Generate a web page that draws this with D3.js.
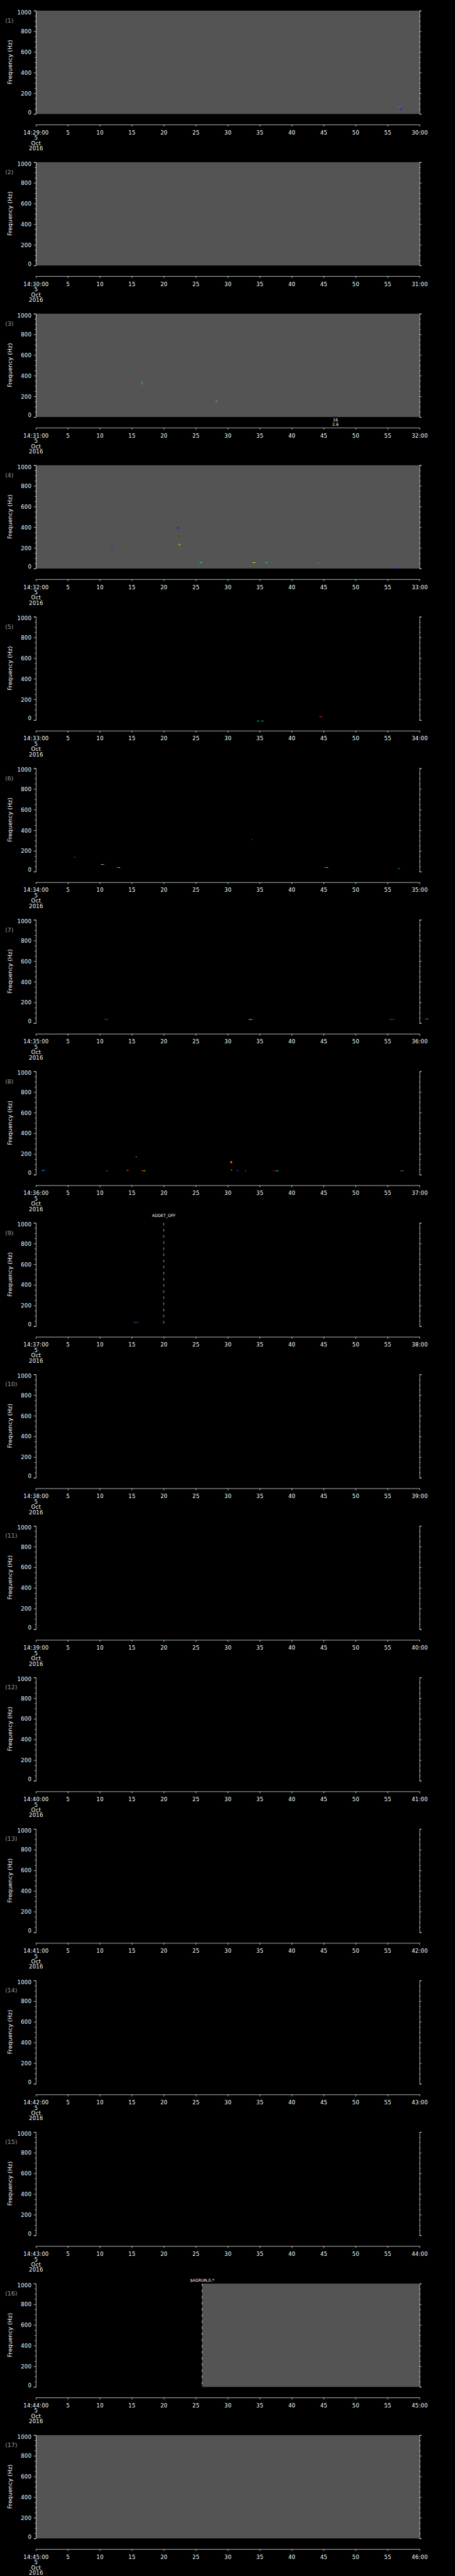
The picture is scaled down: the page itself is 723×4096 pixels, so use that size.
<!DOCTYPE html>
<html>
<head>
<meta charset="utf-8">
<script src="https://cdn.jsdelivr.net/npm/d3@7"></script>
<style>
  html, body { margin: 0; padding: 0; background: #000; }
  svg { display: block; background: #000; }
</style>
</head>
<body>
<svg id="chart"></svg>
<script>
// one panel per minute, 5 Oct 2016
const panelStarts = [
  "2016-10-05T14:29:00Z", "2016-10-05T14:30:00Z", "2016-10-05T14:31:00Z",
  "2016-10-05T14:32:00Z", "2016-10-05T14:33:00Z", "2016-10-05T14:34:00Z",
  "2016-10-05T14:35:00Z", "2016-10-05T14:36:00Z", "2016-10-05T14:37:00Z",
  "2016-10-05T14:38:00Z", "2016-10-05T14:39:00Z", "2016-10-05T14:40:00Z",
  "2016-10-05T14:41:00Z", "2016-10-05T14:42:00Z", "2016-10-05T14:43:00Z",
  "2016-10-05T14:44:00Z", "2016-10-05T14:45:00Z"
];

// [panel, from s, to s] where the spectrogram has data (flat grey)
const grayRanges = [
  [1, 0, 60], [2, 0, 60], [3, 0, 60], [4, 0, 60], [16, 26, 60], [17, 0, 60]
];

// small spectral features: [panel, t0 s, t1 s, f0 Hz, f1 Hz, colour]
const marks = [
  [1, 56.5, 56.95, 71, 73, "#1e6cff"], [1, 56.9, 56.98, 49, 73, "#1e6cff"], [1, 56.95, 57.3, 48, 50, "#0000c0"],
  [3, 16.55, 16.65, 312, 348, "#00b4ff"], [3, 28.1, 28.35, 152, 157, "#00ffc0"],
  [3, 43.8, 44.0, 0, 3, "#0000c0"], [3, 46.6, 47.0, 0, 3, "#0000ff"],
  [4, 11.8, 12.0, 213, 218, "#0000ff"], [4, 22.1, 22.4, 389, 397, "#0000ff"],
  [4, 22.2, 22.5, 313, 316, "#a00000"], [4, 22.3, 22.6, 231, 234, "#ffff00"],
  [4, 25.6, 26.0, 59, 62, "#00ffff"], [4, 25.9, 26.0, 55, 59, "#0080ff"],
  [4, 33.9, 34.3, 57, 61, "#c0ff00"], [4, 35.9, 36.2, 54, 60, "#00ffc0"],
  [4, 43.9, 44.1, 55, 58, "#0080ff"], [4, 44.1, 44.3, 54, 58, "#ff6000"],
  [4, 56.3, 56.5, 0, 2, "#0000ff"],
  [5, 34.6, 34.9, -8, -6, "#00ffff"], [5, 35.2, 35.6, -8, -6, "#00c0ff"],
  [5, 44.3, 44.6, 35, 37, "#ff0000"], [5, 44.6, 44.7, 35, 37, "#ffff00"], [5, 44.7, 44.8, 35, 37, "#0000ff"],
  [6, 5.9, 6.2, 139, 142, "#ff0000"], [6, 6.1, 6.2, 131, 135, "#0000ff"],
  [6, 10.2, 10.45, 70, 72, "#ffff00"], [6, 10.45, 10.7, 70, 72, "#00c0ff"],
  [6, 12.6, 12.9, 40, 42, "#ff2000"], [6, 12.9, 13.2, 40, 42, "#00ffff"],
  [6, 33.7, 33.9, 309, 317, "#c00000"],
  [6, 45.1, 45.4, 40, 42, "#ff3000"], [6, 45.4, 45.7, 40, 42, "#ffc000"],
  [6, 56.6, 56.9, 32, 34, "#00a0ff"],
  [7, 10.8, 11.05, 36, 38, "#ff2000"], [7, 11.05, 11.3, 36, 38, "#0060ff"],
  [7, 33.3, 33.6, 36, 38, "#ffff00"], [7, 33.6, 33.9, 36, 38, "#00c0ff"],
  [7, 55.3, 55.7, 36, 38, "#ff0000"], [7, 55.7, 56.1, 36, 38, "#0040ff"],
  [7, 60.9, 61.4, 41, 43, "#00a0ff"],
  [8, 0.9, 1.4, 42, 44, "#00c0ff"], [8, 11.0, 11.2, 38, 40, "#00a0ff"],
  [8, 14.2, 14.5, 42, 44, "#ff8000"], [8, 15.6, 15.8, 170, 176, "#00ffc0"],
  [8, 16.5, 16.8, 38, 40, "#ff2000"], [8, 16.8, 17.1, 38, 40, "#ffff00"],
  [8, 30.4, 30.7, 112, 130, "#ff6000"], [8, 30.5, 30.7, 45, 49, "#c0ff00"],
  [8, 31.4, 31.7, 42, 44, "#0060ff"], [8, 32.7, 32.9, 38, 40, "#0080ff"],
  [8, 37.1, 37.6, 38, 40, "#e00000"], [8, 37.6, 37.9, 38, 40, "#00ffff"],
  [8, 57.0, 57.3, 38, 40, "#ff3000"], [8, 57.3, 57.5, 38, 40, "#00c0ff"],
  [9, 15.3, 15.7, 36, 38, "#ff2000"], [9, 15.7, 16.1, 38, 41, "#0040ff"]
];

// command events: [panel, time s, label, label height in Hz]
const events = [
  [9, 20, "ADDET_OFF", 1059],
  [16, 26, "$ADRUN,0,*", 1016]
];

// stray annotations under panel 3: [panel, time s, height Hz, text]
const notes = [
  [3, 46.85, -40, "16"],
  [3, 46.85, -83, "2.6"]
];

const freqTicks = d3.range(0, 1001, 50);

const W = 1024, H = 5802, N = panelStarts.length, PH = H / N;
const M = {left: 80.7, right: 944.3, top: 24, bottom: 256.7, axis: 280.7};
const FONT = "'DejaVu Sans', sans-serif";

const svg = d3.select("#chart")
  .attr("width", 723).attr("height", 4096)
  .attr("viewBox", `0 0 ${W} ${H}`);

const y = d3.scaleLinear().domain([0, 1000]).range([M.bottom, M.top]);

panelStarts.forEach((s, i) => {
  const p = i + 1;
  const t0 = new Date(s);
  const x = d3.scaleUtc().domain([t0, d3.utcMinute.offset(t0, 1)]).range([M.left, M.right]);
  const sx = sec => x(new Date(+t0 + sec * 1000));
  const g = svg.append("g").attr("transform", `translate(0,${i * PH})`);

  g.selectAll("rect.bg").data(grayRanges.filter(r => r[0] === p)).enter().append("rect")
    .attr("class", "bg")
    .attr("x", d => sx(d[1])).attr("width", d => sx(d[2]) - sx(d[1]))
    .attr("y", M.top).attr("height", M.bottom - M.top)
    .attr("fill", "#545454");

  g.selectAll("rect.mk").data(marks.filter(m => m[0] === p)).enter().append("rect")
    .attr("class", "mk")
    .attr("x", d => sx(d[1]))
    .attr("width", d => Math.max(1.4, sx(d[2]) - sx(d[1])))
    .attr("y", d => y(d[4]))
    .attr("height", d => Math.max(1.4, y(d[3]) - y(d[4])))
    .attr("fill", d => d[5]);

  // event lines + labels
  const ev = events.filter(e => e[0] === p);
  g.selectAll("line.ev").data(ev).enter().append("line")
    .attr("class", "ev")
    .attr("x1", d => sx(d[1])).attr("x2", d => sx(d[1]))
    .attr("y1", M.top).attr("y2", M.bottom)
    .attr("stroke", "#fff").attr("stroke-width", 1)
    .attr("stroke-dasharray", "5.7,8.1");
  g.selectAll("text.ev").data(ev).enter().append("text")
    .attr("class", "ev")
    .attr("x", d => sx(d[1])).attr("y", d => y(d[3]))
    .attr("text-anchor", "middle")
    .attr("font-family", FONT).attr("font-size", 9).attr("fill", "#fff")
    .text(d => d[2]);

  g.selectAll("text.note").data(notes.filter(n => n[0] === p)).enter().append("text")
    .attr("class", "note")
    .attr("x", d => sx(d[1])).attr("y", d => y(d[2]))
    .attr("text-anchor", "middle")
    .attr("font-family", FONT).attr("font-size", 9).attr("fill", "#fff")
    .text(d => d[3]);

  // left frequency axis
  const gy = g.append("g").attr("transform", `translate(${M.left},0)`)
    .call(d3.axisLeft(y).tickValues(freqTicks).tickSize(4.7)
      .tickFormat(v => v % 200 === 0 ? v : ""));
  gy.attr("font-family", FONT).attr("font-size", 12);
  gy.selectAll(".tick").filter(v => v % 200 !== 0).select("line").attr("x2", -2.7);
  gy.selectAll(".tick text")
    .attr("x", -9.7).attr("dy", 0)
    .attr("y", v => v === 1000 ? 7.7 : v === 0 ? 0 : 4.3)
    .attr("letter-spacing", 0.4)
    .attr("fill", "#fff");

  // right frequency axis
  const gr = g.append("g").attr("transform", `translate(${M.right},0)`)
    .call(d3.axisRight(y).tickValues(freqTicks).tickSize(4.3).tickFormat(""));
  gr.selectAll(".tick").filter(v => v % 200 !== 0).select("line").attr("x2", 2.3);

  [gy, gr].forEach(a => {
    a.select(".domain").attr("stroke", "#fff");
    a.selectAll(".tick line").attr("stroke", "#fff");
  });

  // time axis
  const gx = g.append("g").attr("transform", `translate(0,${M.axis})`)
    .call(d3.axisBottom(x).ticks(d3.utcSecond.every(5)).tickSize(4.3).tickSizeOuter(0)
      .tickFormat((d, k) => k === 0 ? d3.utcFormat("%H:%M:%S")(d)
        : d.getUTCSeconds() === 0 ? d3.utcFormat("%M:%S")(d)
        : d3.utcFormat("%-S")(d)));
  gx.attr("font-family", FONT).attr("font-size", 12);
  gx.select(".domain").attr("stroke", "#fff");
  gx.selectAll(".tick line").attr("stroke", "#fff");
  gx.selectAll(".tick text").attr("y", 22).attr("dy", 0)
    .attr("letter-spacing", 0.4).attr("fill", "#fff");

  // first tick carries the date underneath, one line each
  const first = gx.select(".tick text").text(null);
  [
    [22, d3.utcFormat("%H:%M:%S")(t0)],
    [34.3, d3.utcFormat("%-d")(t0)],
    [46, d3.utcFormat("%b")(t0)],
    [58, d3.utcFormat("%Y")(t0)]
  ].forEach(([yy, txt]) => first.append("tspan").attr("x", 0).attr("y", yy).text(txt));

  // panel number and y label
  g.append("text")
    .attr("x", 11.5).attr("y", 51)
    .attr("font-family", FONT).attr("font-size", 13.4).attr("fill", "#9a9a9a")
    .text(`(${p})`);
  g.append("text")
    .attr("transform", `translate(26.5,140) rotate(-90)`)
    .attr("text-anchor", "middle")
    .attr("font-family", FONT).attr("font-size", 13).attr("fill", "#fff")
    .attr("textLength", 100).attr("lengthAdjust", "spacing")
    .text("Frequency (Hz)");
});
</script>
</body>
</html>
